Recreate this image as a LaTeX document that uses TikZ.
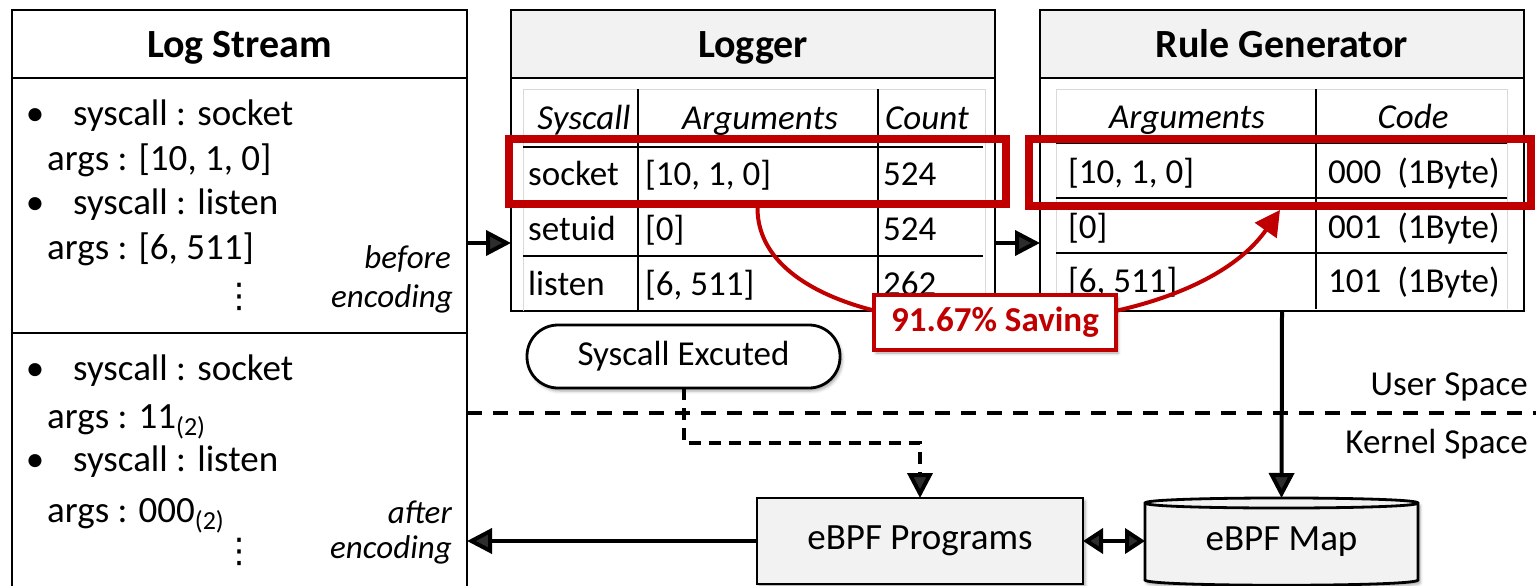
\documentclass[tikz,border=0pt]{standalone}
\usepackage{fontspec}
\setmainfont{Carlito}
\newfontfamily\symfont{DejaVu Sans}
\usetikzlibrary{arrows.meta,shadows.blur}
\definecolor{hdrgray}{HTML}{F2F2F2}
\definecolor{hlred}{HTML}{C00000}
\definecolor{gridgray}{HTML}{D9D9D9}
\newcommand\fsz[1]{\fontsize{#1}{#1}\selectfont}
\newcommand\lowsub[1]{\raisebox{-7pt}{\fsz{26}#1}}
\tikzset{
  box/.style={draw, line width=2.8pt, inner sep=0pt, outer sep=0pt},
  hdr/.style={box, fill=hdrgray, font=\fsz{40}\bfseries, text height=26pt, text depth=0pt},
  tblline/.style={line width=2pt},
  faint/.style={gridgray, line width=1pt},
  cell/.style={font=\fsz{35}, inner sep=0pt, anchor=base west},
  colh/.style={font=\fsz{35}\itshape, inner sep=0pt, anchor=base},
  lstxt/.style={font=\fsz{37}, inner sep=0pt, anchor=base west},
  dotstxt/.style={font=\symfont\fsz{34}, inner sep=0pt},
  tagtxt/.style={font=\fsz{33}\itshape, inner sep=0pt, anchor=base east},
  softshadow/.style={blur shadow={shadow xshift=2pt, shadow yshift=-3pt, shadow blur radius=3pt, shadow opacity=35}},
  conn/.style={line width=4pt, -{Triangle[length=25pt, width=25pt]}},
  dconn/.style={conn, dash pattern=on 12pt off 8pt},
  biconn/.style={line width=4pt, {Triangle[length=20pt, width=25pt]}-{Triangle[length=20pt, width=25pt]}},
  sepline/.style={line width=4pt, dash pattern=on 15pt off 11pt},
  hlbox/.style={draw=hlred, line width=8pt, inner sep=0pt, outer sep=4pt},
  redarrow/.style={draw=hlred, line width=4pt, -{Triangle[length=25pt, width=26pt]}},
  callout/.style={draw=hlred, fill=white, line width=4pt, inner sep=0pt, text=hlred, font=\fsz{35}\bfseries, softshadow},
}
\begin{document}
\begin{tikzpicture}[x=1pt, y=-1pt]
\useasboundingbox (0,0) rectangle (1536,586);

% ---------- Log Stream ----------
\node[box, minimum width=455pt, minimum height=68pt, anchor=north west, font=\fsz{40}\bfseries, text height=26pt, text depth=0pt] (lshead) at (12,10) {Log Stream};
\node[box, minimum width=455pt, minimum height=255pt, anchor=north west] (lsbefore) at (12,78) {};
\node[box, minimum width=455pt, minimum height=255pt, anchor=north west] (lsafter) at (12,333) {};

\node[lstxt, anchor=base] (bb1) at (35,125) {•};
\node[lstxt] (bl1) at (73,125) {syscall : socket};
\node[lstxt] (bl2) at (47,170) {args : [10, 1, 0]};
\node[lstxt, anchor=base] (bb2) at (35,214) {•};
\node[lstxt] (bl3) at (73,214) {syscall : listen};
\node[lstxt] (bl4) at (47,259) {args : [6, 511]};
\node[dotstxt] (bdots) at (239,297) {⋮};
\node[tagtxt] (tg1) at (451,268) {before};
\node[tagtxt] (tg2) at (453,307) {encoding};

\node[lstxt, anchor=base] (ab1) at (35,380) {•};
\node[lstxt] (al1) at (73,380) {syscall : socket};
\node[lstxt] (al2) at (47,428) {args : 11\lowsub{(2)}};
\node[lstxt, anchor=base] (ab2) at (35,471) {•};
\node[lstxt] (al3) at (73,471) {syscall : listen};
\node[lstxt] (al4) at (47,522) {args : 000\lowsub{(2)}};
\node[dotstxt] (adots) at (239,552) {⋮};
\node[tagtxt] (tg3) at (452,523) {after};
\node[tagtxt] (tg4) at (452,558) {encoding};

% ---------- Logger ----------
\node[hdr, minimum width=484pt, minimum height=68pt, anchor=north west] (lghead) at (511,10) {Logger};
\node[box, minimum width=484pt, minimum height=233pt, anchor=north west] (lgbody) at (511,78) {};
\draw[faint] (523,311) -- (523,89) -- (985,89) -- (985,311);
\draw[tblline] (638,89) -- (638,311);
\draw[tblline] (878,89) -- (878,311);
\draw[tblline] (523,147) -- (983,147);
\draw[tblline] (523,201) -- (983,201);
\draw[tblline] (523,256) -- (983,256);
\node[colh] (lgc1) at (584,129) {Syscall};
\node[colh] (lgc2) at (760,129) {Arguments};
\node[colh] (lgc3) at (927,129) {Count};
\node[cell] (lg11) at (528,185) {socket};
\node[cell] (lg12) at (645,185) {[10, 1, 0]};
\node[cell] (lg13) at (883,185) {524};
\node[cell] (lg21) at (528,240) {setuid};
\node[cell] (lg22) at (645,240) {[0]};
\node[cell] (lg23) at (883,240) {524};
\node[cell] (lg31) at (528,295) {listen};
\node[cell] (lg32) at (645,295) {[6, 511]};
\node[cell] (lg33) at (883,295) {262};

% ---------- Rule Generator ----------
\node[hdr, minimum width=484pt, minimum height=68pt, anchor=north west] (rghead) at (1040,10) {Rule Generator};
\node[box, minimum width=484pt, minimum height=233pt, anchor=north west] (rgbody) at (1040,78) {};
\draw[faint] (1056,309) -- (1056,89) -- (1507,89) -- (1507,309);
\draw[tblline] (1316,89) -- (1316,309);
\draw[tblline] (1056,143) -- (1507,143);
\draw[tblline] (1056,198) -- (1507,198);
\draw[tblline] (1056,253) -- (1507,253);
\node[colh] (rgc1) at (1187,128) {Arguments};
\node[colh] (rgc2) at (1413,128) {Code};
\node[cell] (rg11) at (1068,183) {[10, 1, 0]};
\node[cell] (rg12) at (1328,183) {000\ \ (1Byte)};
\node[cell] (rg21) at (1068,238) {[0]};
\node[cell] (rg22) at (1328,238) {001\ \ (1Byte)};
\node[cell] (rg31) at (1068,292) {[6, 511]};
\node[cell] (rg32) at (1328,292) {101\ \ (1Byte)};

% ---------- user / kernel boundary ----------
\coordinate (sepL) at (467,413);
\coordinate (sepR) at (1536,413);
\draw[sepline] (sepL) -- (sepR);
\node[font=\fsz{35}, inner sep=0pt, anchor=base east] (uspace) at (1528,395) {User Space};
\node[font=\fsz{35}, inner sep=0pt, anchor=base east] (kspace) at (1528,453) {Kernel Space};

% ---------- kernel side ----------
\node[draw, fill=white, line width=2.8pt, rounded corners=31pt, minimum width=313pt, minimum height=63pt, inner sep=0pt, outer sep=0pt, font=\fsz{35}, softshadow] (sysx) at (683.5,356.5) {Syscall Excuted};
\node[box, fill=hdrgray, minimum width=326pt, minimum height=86pt, font=\fsz{37}, softshadow] (prog) at (920,541) {eBPF Programs};

% eBPF Map drawn as a cylinder around an anchor node
\path[fill=hdrgray, draw, line width=2.8pt, softshadow]
  (1145,503) -- (1145,580) .. controls (1145,587) and (1418,587) .. (1418,580)
  -- (1418,503) .. controls (1418,496.3) and (1145,496.3) .. cycle;
\draw[line width=2.8pt] (1145,503) .. controls (1145,509.7) and (1418,509.7) .. (1418,503);
\node[inner sep=0pt, outer sep=0pt, minimum width=273pt, minimum height=88pt, font=\fsz{37}] (map) at (1281.5,542) {eBPF Map};

% ---------- connectors ----------
\coordinate (midrow) at (0,243);
\coordinate (bendrow) at (0,443);
\draw[conn] (lsbefore.east |- midrow) -- (lgbody.west |- midrow);
\draw[conn] (lgbody.east |- midrow) -- (rgbody.west |- midrow);
\draw[conn] (rgbody.south) -- (map.north);
\draw[dconn] (sysx.south) -- (sysx.south |- bendrow) -| (prog.north);
\draw[conn] (prog.west) -- (prog.west -| lsafter.east);
\draw[biconn] (prog.east) -- (prog.east -| map.west);

% ---------- highlights and saving callout ----------
\node[hlbox, minimum width=497pt, minimum height=65pt] (hl1) at (757.5,171.5) {};
\node[hlbox, minimum width=502pt, minimum height=67pt] (hl2) at (1280,172.5) {};
\draw[redarrow] (hl1.south) .. controls +(0,150) and +(-105,150) .. (hl2.south);
\node[callout, minimum width=242pt, minimum height=55pt] (save) at (995,322.5) {91.67\% Saving};
\end{tikzpicture}
\end{document}
